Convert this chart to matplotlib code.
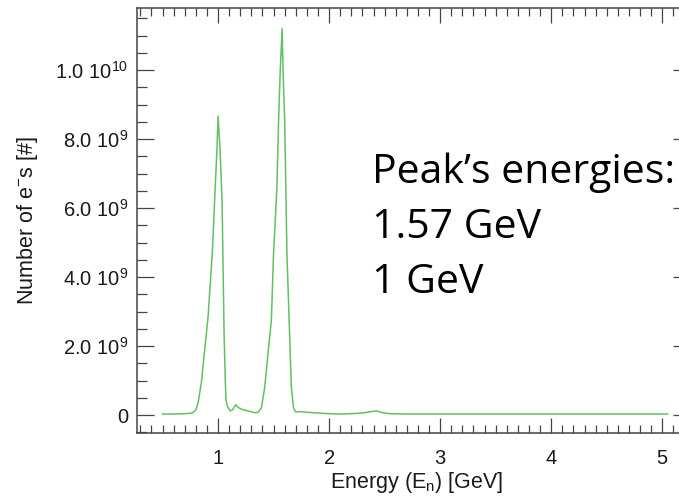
import matplotlib
matplotlib.use("Agg")
import matplotlib.pyplot as plt
from matplotlib.ticker import MultipleLocator, FuncFormatter
import numpy as np

# Electron energy spectrum (counts in units of 1e9)
energy_gev = [0.50, 0.60, 0.70, 0.77, 0.80, 0.82, 0.85, 0.88, 0.91, 0.95,
              0.97, 0.99, 1.00, 1.018, 1.036, 1.045, 1.054, 1.065, 1.072, 1.085,
              1.11, 1.13, 1.16, 1.18, 1.22, 1.27, 1.33, 1.36, 1.39, 1.42,
              1.45, 1.48, 1.50, 1.53, 1.545, 1.56, 1.577, 1.585, 1.60, 1.61,
              1.62, 1.64, 1.66, 1.68, 1.70, 1.75, 1.80, 1.90, 2.00, 2.10,
              2.20, 2.30, 2.38, 2.43, 2.48, 2.55, 2.70, 3.00, 3.50, 4.00,
              4.50, 5.05]
counts_1e9 = [0.03, 0.03, 0.04, 0.06, 0.15, 0.35, 0.95, 1.90, 2.85, 4.80,
              6.30, 7.70, 8.67, 7.70, 6.20, 4.30, 2.40, 1.00, 0.43, 0.25,
              0.12, 0.15, 0.30, 0.22, 0.16, 0.12, 0.07, 0.08, 0.20, 0.80,
              1.80, 2.75, 4.70, 6.60, 8.55, 10.0, 11.2, 10.0, 8.55, 6.60,
              4.70, 2.75, 0.80, 0.20, 0.09, 0.10, 0.08, 0.06, 0.04, 0.03,
              0.04, 0.06, 0.10, 0.12, 0.07, 0.04, 0.03, 0.03, 0.03, 0.03,
              0.03, 0.03]

peak_lines = ["Peak\u2019s energies:", "1.57 GeV", "1 GeV"]

plt.rcParams["font.family"] = ["Liberation Sans", "DejaVu Sans"]
plt.rcParams["mathtext.default"] = "regular"

W, H = 679, 496
PT = 0.72  # points per pixel at 100 dpi
fig = plt.figure(figsize=(W / 100, H / 100), dpi=100)
left_px, right_px, top_px, bottom_px = 137, 690, 8, 433
ax = fig.add_axes([left_px / W, 1 - bottom_px / H,
                   (right_px - left_px) / W, (bottom_px - top_px) / H])

ax.plot(energy_gev, np.array(counts_1e9) * 1e9, color="#62c062", lw=1.1)

ax.set_xlim(0.27, 5.25)
ax.set_ylim(-0.52e9, 11.8e9)

ax.xaxis.set_major_locator(MultipleLocator(1))
ax.xaxis.set_minor_locator(MultipleLocator(0.1))
ax.yaxis.set_major_locator(MultipleLocator(2e9))
ax.yaxis.set_minor_locator(MultipleLocator(0.5e9))


def ylab(v, pos):
    if abs(v) < 1:
        return "0"
    e = int(np.floor(np.log10(abs(v))))
    m = v / 10 ** e
    return f"{m:.1f} 10$^{{{e}}}$"


ax.yaxis.set_major_formatter(FuncFormatter(ylab))
ax.xaxis.set_major_formatter(FuncFormatter(lambda v, p: f"{v:.0f}"))

axis_col = "#444444"
for s in ax.spines.values():
    s.set_color(axis_col)
    s.set_linewidth(1.1)

ax.tick_params(axis="both", which="both", direction="in", top=True, right=True,
               color=axis_col, width=0.9, labelcolor="#1a1a1a")
ax.tick_params(axis="y", which="major", length=17 * PT, pad=9 * PT, labelsize=14.5)
ax.tick_params(axis="y", which="minor", length=10 * PT)
ax.tick_params(axis="x", which="major", length=15 * PT, pad=16 * PT, labelsize=14.5)
ax.tick_params(axis="x", which="minor", length=8 * PT)

ax.set_xlabel("Energy (E$_n$) [GeV]", fontsize=15.5, color="#1a1a1a")
ax.set_ylabel("Number of e$^{-}$s [#]", fontsize=15.5, color="#1a1a1a")
ax.xaxis.set_label_coords(0.505, -0.088)
ax.yaxis.set_label_coords(-0.175, 0.5)

ys = [183, 238, 293]
for txt, yb in zip(peak_lines, ys):
    fig.text(372 / W, 1 - yb / H, txt, fontsize=29.5,
             family=["Open Sans", "DejaVu Sans"],
             color="black", ha="left", va="baseline")

fig.savefig("out.png", dpi=100)
